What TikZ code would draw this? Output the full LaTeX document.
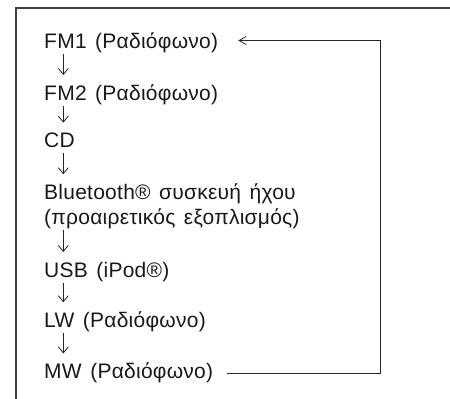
\documentclass[tikz,border=0pt]{standalone}
\usepackage{fontspec}
\setmainfont{Liberation Sans}[WordSpace=1.4,LetterSpace=1.2]
\usetikzlibrary{arrows.meta}
\begin{document}
\begin{tikzpicture}[x=1pt,y=-1pt,
  item/.style={anchor=base west,inner sep=0pt,text=black!90,font=\fontsize{21}{24}\selectfont},
  down/.style={draw=black!85,line width=0.8pt,-{Straight Barb[length=6pt,width=10pt,line width=0.8pt]}},
  loop/.style={draw=black!85,line width=0.8pt,-{Straight Barb[length=7pt,width=8pt,line width=0.8pt]}},
  frame/.style={draw=black!75,line width=1.2pt}]
\useasboundingbox (0,0) rectangle (450,399);
\draw[frame] (452,8) -- (16,8) -- (16,401);
\node[item] (fm1) at (44,48.5) {FM1 (Ραδιόφωνο)};
\node[item] (fm2) at (44,100) {FM2 (Ραδιόφωνο)};
\node[item] (cd) at (44,147.7) {CD};
\node[item] (bt) at (44,199.3) {Bluetooth® συσκευή ήχου};
\node[item] (bt2) at (44,224) {(προαιρετικός εξοπλισμός)};
\node[item] (usb) at (44,277) {USB (iPod®)};
\node[item] (lw) at (44,327.3) {LW (Ραδιόφωνο)};
\node[item] (mw) at (44,378.5) {MW (Ραδιόφωνο)};
\foreach \a/\b in {fm1/fm2,fm2/cd,cd/bt,bt2/usb,usb/lw,lw/mw}{
  \draw[down] ([xshift=19.3pt,yshift=-5.5pt]\a.base west) -- ([xshift=19.3pt,yshift=25pt]\b.base west);
}
\coordinate (rx) at (380,0);
\draw[loop] ([xshift=14pt,yshift=5pt]mw.base east) -- ([yshift=5pt]mw.base east -| rx)
  -- ([yshift=8pt]fm1.base east -| rx) -- ([xshift=20pt,yshift=8pt]fm1.base east);
\end{tikzpicture}
\end{document}
